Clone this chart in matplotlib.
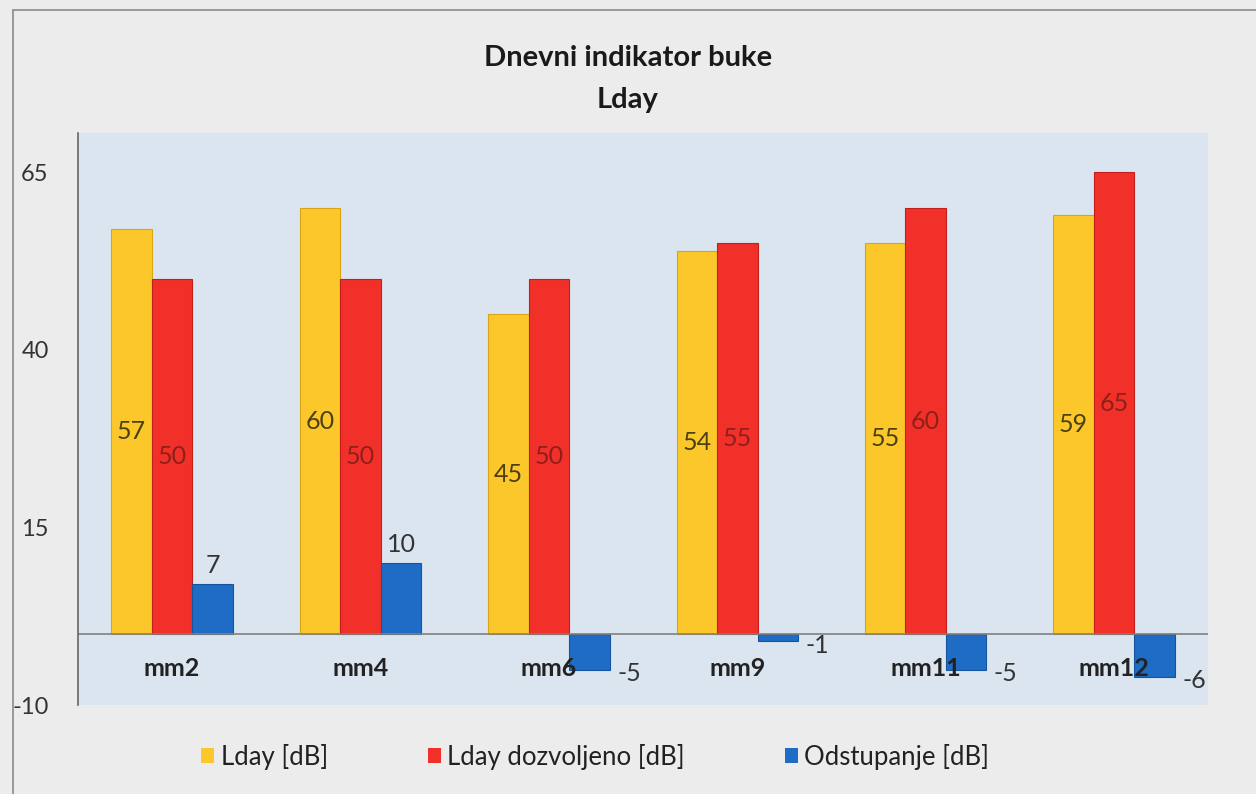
import matplotlib.pyplot as plt
from matplotlib.patches import Patch, Rectangle

# podaci ocitani sa grafika
mjesta = ['mm2', 'mm4', 'mm6', 'mm9', 'mm11', 'mm12']
lday = [57, 60, 45, 54, 55, 59]
lday_dozvoljeno = [50, 50, 50, 55, 60, 65]
odstupanje = [7, 10, -5, -1, -5, -6]
y_ticks = [-10, 15, 40, 65]

plt.rcParams['font.family'] = ['Lato', 'DejaVu Sans']

c_zuta = '#fcc72a'
c_crvena = '#f2302a'
c_plava = '#1e6cc4'

fig = plt.figure(figsize=(12.56, 7.94), dpi=100)
fig.patch.set_facecolor('#ececec')
fig.patches.append(Rectangle((13 / 1256, -0.01), 1.0, (794 - 10) / 794 + 0.01,
                             transform=fig.transFigure, fill=False,
                             edgecolor='#8a8a8a', linewidth=1.2))

ax = fig.add_axes([0.062, 0.112, 0.9, 0.72])
ax.set_facecolor('#dbe5ef')

x = list(range(len(mjesta)))
w = 0.215
ax.bar([i - w for i in x], lday, w, color=c_zuta, edgecolor='#d9a514', linewidth=0.8)
ax.bar(x, lday_dozvoljeno, w, color=c_crvena, edgecolor='#c21f1a', linewidth=0.8)
ax.bar([i + w for i in x], odstupanje, w, color=c_plava, edgecolor='#15549e', linewidth=0.8)

for i in x:
    ax.text(i - w, lday[i] / 2, str(lday[i]), ha='center', va='center',
            fontsize=18, color='#4a4010')
    ax.text(i, lday_dozvoljeno[i] / 2, str(lday_dozvoljeno[i]), ha='center', va='center',
            fontsize=18, color='#8e1f1a')
    v = odstupanje[i]
    if v >= 0:
        ax.text(i + w, v + 1.0, str(v), ha='center', va='bottom', fontsize=18, color='#333333')
    else:
        ax.text(i + w + 0.21, v - 0.6, str(v), ha='center', va='center', fontsize=18, color='#333333')
    ax.text(i, -4.8, mjesta[i], ha='center', va='center', fontsize=18,
            fontweight='bold', color='#222222')

ax.axhline(0, color='#808080', linewidth=1.2)
ax.set_xlim(-0.5, 5.5)
ax.set_ylim(-10, 70.5)
ax.set_yticks(y_ticks)
ax.set_yticklabels([str(t) for t in y_ticks], fontsize=17, color='#333333')
ax.tick_params(axis='y', length=0, pad=21)
ax.set_xticks([])
for s in ['top', 'right', 'bottom']:
    ax.spines[s].set_visible(False)
ax.spines['left'].set_color('#666666')
ax.spines['left'].set_linewidth(1.2)

fig.text(0.5, 0.927, 'Dnevni indikator buke', ha='center', va='center',
         fontsize=21, fontweight='bold', color='#1a1a1a')
fig.text(0.5, 0.874, 'Lday', ha='center', va='center',
         fontsize=21, fontweight='bold', color='#1a1a1a')

handles = [Patch(facecolor=c_zuta), Patch(facecolor=c_crvena), Patch(facecolor=c_plava)]
labels = ['Lday [dB]', 'Lday dozvoljeno [dB]', 'Odstupanje [dB]']
fig.legend(handles, labels, loc='center', bbox_to_anchor=(0.474, 0.047), ncol=3,
           frameon=False, fontsize=18.5, handlelength=0.5, handleheight=0.5,
           handletextpad=0.25, columnspacing=3.9, labelcolor='#222222')

fig.savefig('out.png', dpi=100, facecolor=fig.get_facecolor())
